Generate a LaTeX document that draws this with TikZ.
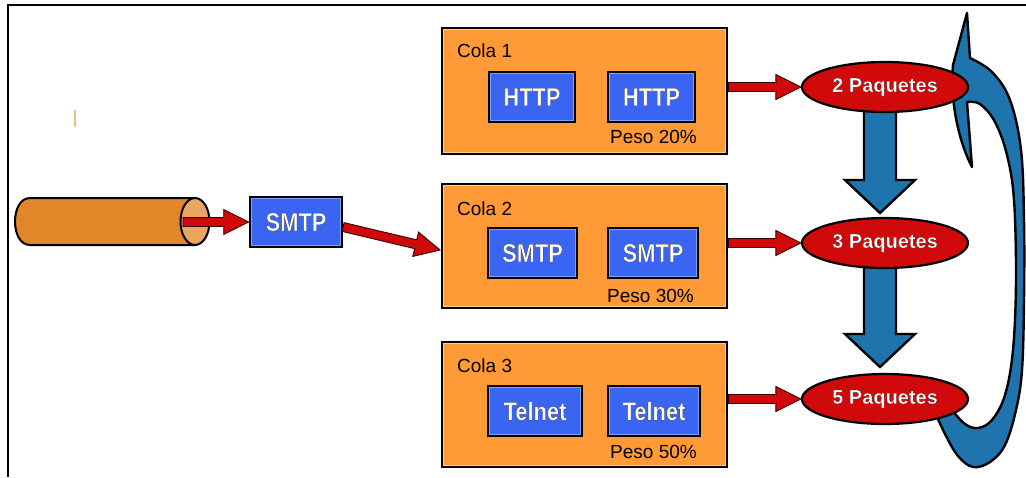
\documentclass[tikz,border=0pt]{standalone}
\usepackage{fontspec}
\setmainfont{Liberation Sans}
\newfontfamily\rimfont[FakeBold=0.9]{Liberation Sans Bold}
\usetikzlibrary{calc,shapes.geometric}

\definecolor{queueorange}{HTML}{FF9A36}
\definecolor{queuerim}{HTML}{FFD27A}
\definecolor{pktblue}{HTML}{3A64F2}
\definecolor{pktrim}{HTML}{7FA0FF}
\definecolor{pktred}{HTML}{D00A0A}
\definecolor{flowblue}{HTML}{1F74AE}
\definecolor{pipebody}{HTML}{E2862A}
\definecolor{pipecap}{HTML}{EAA660}
\definecolor{tick}{HTML}{E8C084}

% white lettering stroked with a dark rim
\newcommand\rimtext[1]{{\rimfont\color{white}\special{pdf:code 0.15 0.15 0.15 RG}#1}}
\newcommand\tallrim[1]{\scalebox{0.95}[1.12]{\rimtext{#1}}}

% straight red arrow from #1 to #2 (tip at #2)
\newcommand\redarrow[2]{%
  \coordinate (ra-base) at ($(#2)!25pt!(#1)$);
  \draw[redarrowstyle]
    ($(#1)!4.5pt!90:(#2)$) -- ($(ra-base)!4.5pt!90:(#2)$) --
    ($(ra-base)!12.5pt!90:(#2)$) -- (#2) --
    ($(ra-base)!12.5pt!-90:(#2)$) -- ($(ra-base)!4.5pt!-90:(#2)$) --
    ($(#1)!4.5pt!-90:(#2)$) -- cycle;}

% broad blue arrow pointing down from #1 to the tip #2
\newcommand\bluedown[2]{%
  \draw[bluearrowstyle]
    ($(#1)+(-16,0)$) -- ($(#2)+(-16,-33)$) -- ($(#2)+(-35,-33)$) --
    (#2) -- ($(#2)+(35,-33)$) -- ($(#2)+(16,-33)$) --
    ($(#1)+(16,0)$) -- cycle;}

% light inner edge of a box node #1
\newcommand\innerrim[2]{%
  \draw[#2, line width=1pt] ($(#1.south west)+(2.6,-2.6)$) rectangle ($(#1.north east)+(-2.6,2.6)$);}

\tikzset{
  queue/.style={draw=black, line width=2.6pt, fill=queueorange,
    minimum width=285pt, inner sep=0pt},
  packet/.style={draw=black, line width=2.6pt, fill=pktblue,
    minimum width=88pt, minimum height=50pt, inner sep=0pt,
    font=\fontsize{23}{27}\selectfont},
  counter/.style={ellipse, draw=black, line width=2.2pt, fill=pktred,
    minimum width=166pt, minimum height=50pt, inner sep=0pt,
    font=\fontsize{20}{24}\selectfont},
  qlabel/.style={anchor=base west, inner sep=0pt,
    font=\fontsize{19}{23}\selectfont},
  redarrowstyle/.style={fill=pktred, draw=black!80!red, line width=0.9pt,
    line join=miter},
  bluearrowstyle/.style={fill=flowblue, draw=black, line width=2.4pt,
    line join=miter},
}

\begin{document}
\begin{tikzpicture}[x=1pt, y=-1pt]
\useasboundingbox (0,0) rectangle (1026,477);

% frame
\draw[line width=2pt] (8,477) -- (8,5) -- (1026,5);
\draw[tick, line width=1.4pt] (75,110) -- (75,127);

% incoming pipe
\draw[fill=pipebody, line width=2pt]
  (195,198) -- (30,198) .. controls (10,198) and (10,245) .. (30,245)
  -- (195,245) -- cycle;
\draw[fill=pipecap, line width=2pt] (195,221.5) ellipse [x radius=14.5, y radius=23.5];
\coordinate (pipe-out) at (183,222);

% arriving packet
\node[packet, minimum width=92pt] (smtp) at (296,222) {\tallrim{SMTP}};
\innerrim{smtp}{pktrim}

% queues
\node[queue, minimum height=126pt] (c1) at (584.5,91) {};
\node[queue, minimum height=124pt] (c2) at (584.5,246) {};
\node[queue, minimum height=125pt] (c3) at (584.5,404.5) {};
\innerrim{c1}{queuerim}
\innerrim{c2}{queuerim}
\innerrim{c3}{queuerim}

\node[qlabel] (c1t) at (457,57) {Cola 1};
\node[qlabel] (c2t) at (457,215) {Cola 2};
\node[qlabel] (c3t) at (457,372) {Cola 3};

\node[packet, minimum width=85pt] (h1) at (532,97) {\tallrim{HTTP}};
\node[packet, minimum width=87pt] (h2) at (651.5,97) {\tallrim{HTTP}};
\node[packet, minimum width=89pt] (s1) at (532.5,253) {\tallrim{SMTP}};
\node[packet, minimum width=90pt] (s2) at (653,253) {\tallrim{SMTP}};
\node[packet, minimum width=94pt] (t1) at (535,411) {\tallrim{Telnet}};
\node[packet, minimum width=92pt] (t2) at (654,411) {\tallrim{Telnet}};
\foreach \b in {h1,h2,s1,s2,t1,t2} {\innerrim{\b}{pktrim}}

\node[qlabel] (p1) at (610,143) {Peso 20\%};
\node[qlabel] (p2) at (607,302) {Peso 30\%};
\node[qlabel] (p3) at (610,458) {Peso 50\%};

% return arrow round the right side
\draw[bluearrowstyle, line join=round]
  plot[smooth, tension=0.6] coordinates {(935,412) (945,434) (958,456) (973,467)
     (990,462) (1005,445) (1016,410) (1022,370) (1024,300) (1024,220)
     (1021,150) (1010,100) (992,72) (970,58)}
  -- (967,13) -- (953,65)
  .. controls (950,100) and (958,140) .. (972,167)
  -- (967,102)
  -- plot[smooth, tension=0.6] coordinates {(967,102) (980,104) (995,122)
     (1007,155) (1014,200) (1016,280) (1013,350) (1005,395) (992,420)
     (978,428) (965,424) (952,410)}
  -- cycle;

% broad arrows between the counters
\coordinate (b1s) at (880,104);
\coordinate (b1t) at (880,213);
\coordinate (b2s) at (880,262);
\coordinate (b2t) at (880,367);
\bluedown{b1s}{b1t}
\bluedown{b2s}{b2t}

% packet counters
\node[counter] (e1) at (885,87) {\rimtext{2 Paquetes}};
\node[counter] (e2) at (885,243) {\rimtext{3 Paquetes}};
\node[counter] (e3) at (885,399) {\rimtext{5 Paquetes}};

% red flow arrows
\redarrow{pipe-out}{smtp.west}
\coordinate (smtp-out) at (343,227);
\coordinate (c2-in) at (440,250);
\redarrow{smtp-out}{c2-in}
\coordinate (c1-out) at (c1.east |- e1.west);
\coordinate (c2-out) at (c2.east |- e2.west);
\coordinate (c3-out) at (c3.east |- e3.west);
\redarrow{c1-out}{e1.west}
\redarrow{c2-out}{e2.west}
\redarrow{c3-out}{e3.west}
\end{tikzpicture}
\end{document}
